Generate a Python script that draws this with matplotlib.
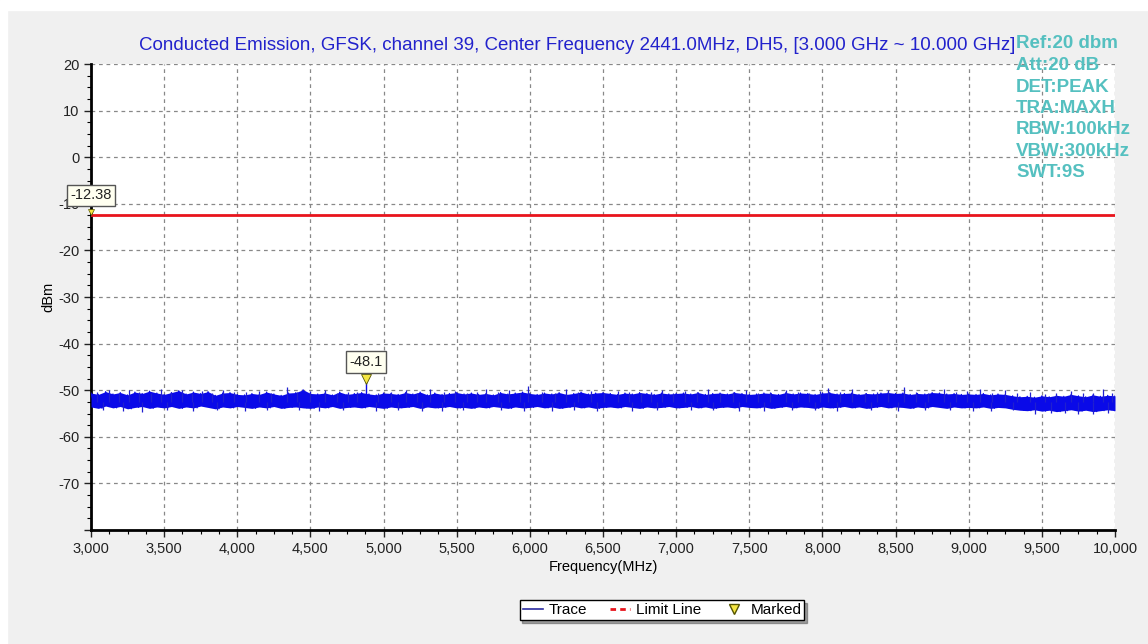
import matplotlib.pyplot as plt
import numpy as np
from matplotlib.lines import Line2D
from matplotlib.patches import Rectangle
from matplotlib.ticker import MultipleLocator, FuncFormatter

plt.rcParams["font.family"] = ["Liberation Sans", "DejaVu Sans"]

# Данные трассы: верхняя и нижняя огибающая шума, шаг 50 МГц
freq = np.arange(3000, 10001, 50)
trace_hi = [
    -50.6, -50.9, -50.3, -50.8, -50.5, -51.0, -50.4, -50.7, -50.2, -50.6, -50.9,
    -50.5, -50.1, -50.8, -50.4, -50.7, -50.3, -51.1, -50.6, -50.5, -50.9,
    -51.0, -50.7, -50.9, -50.4, -50.8, -51.1, -50.6, -50.5, -49.9, -50.7,
    -50.8, -50.6, -51.0, -50.4, -50.9, -50.7, -50.5, -50.8, -51.0, -50.6,
    -50.7, -50.9, -50.5, -50.8, -50.4, -51.0, -50.6, -50.9, -50.7, -50.5,
    -50.8, -50.6, -50.9, -50.7, -51.0, -50.5, -50.8, -50.6, -50.4, -50.7,
    -50.9, -50.6, -50.8, -50.5, -50.9, -50.7, -50.4, -50.8, -50.6, -50.5,
    -50.7, -50.9, -50.6, -50.8, -50.5, -50.7, -50.9, -50.6, -50.8, -50.7,
    -50.6, -50.8, -50.5, -50.9, -50.7, -50.6, -50.8, -50.5, -50.7, -50.9,
    -50.8, -50.6, -50.7, -50.9, -50.5, -50.8, -50.6, -50.7, -50.9, -50.6,
    -50.5, -50.8, -50.7, -50.6, -50.9, -50.7, -50.8, -50.6, -50.5, -50.7,
    -50.6, -50.9, -50.7, -50.8, -50.5, -50.6, -50.8, -50.7, -50.9, -50.8,
    -50.9, -50.7, -51.0, -50.8, -50.9, -51.2, -51.4, -51.3, -51.5, -51.2,
    -51.4, -51.1, -51.3, -50.9, -51.2, -51.4, -51.0, -51.3, -51.1, -51.2,
]
trace_lo = [
    -53.6, -53.9, -53.4, -53.8, -53.5, -54.0, -53.7, -53.5, -53.9, -53.6, -53.8,
    -53.5, -53.9, -53.6, -53.8, -53.4, -53.7, -54.0, -53.6, -53.8, -53.5,
    -53.7, -53.9, -53.6, -53.8, -53.5, -53.9, -53.7, -53.6, -53.8, -53.9,
    -53.6, -53.8, -53.5, -53.9, -53.7, -53.6, -53.8, -53.5, -53.7, -53.9,
    -53.6, -53.8, -53.7, -53.5, -53.9, -53.6, -53.8, -53.7, -53.5, -53.8,
    -53.7, -53.9, -53.6, -53.8, -53.5, -53.7, -53.9, -53.6, -53.8, -53.7,
    -53.5, -53.8, -53.6, -53.9, -53.7, -53.5, -53.8, -53.6, -53.9, -53.7,
    -53.6, -53.8, -53.5, -53.7, -53.9, -53.6, -53.8, -53.7, -53.5, -53.8,
    -53.7, -53.5, -53.8, -53.6, -53.9, -53.7, -53.6, -53.8, -53.5, -53.7,
    -53.8, -53.6, -53.9, -53.7, -53.5, -53.8, -53.6, -53.7, -53.9, -53.6,
    -53.8, -53.7, -53.5, -53.8, -53.6, -53.9, -53.7, -53.5, -53.8, -53.6,
    -53.7, -53.9, -53.6, -53.8, -53.5, -53.7, -53.9, -53.6, -53.8, -53.7,
    -53.8, -53.6, -53.9, -53.7, -53.8, -54.1, -54.3, -54.4, -54.2, -54.5,
    -54.3, -54.6, -54.4, -54.2, -54.5, -54.3, -54.6, -54.4, -54.2, -54.4,
]

# Отдельные выбросы шума вверх (частота, уровень)
spike_up_freq = [3040, 3120, 3190, 3260, 3330, 3410, 3480, 3550, 3620, 3690,
                 3760, 3830, 3900, 3980, 4060, 4150, 4230, 4340, 4410, 4500,
                 4600, 4680, 4760, 4820, 4960, 5050, 5150, 5230, 5320, 5410,
                 5490, 5570, 5640, 5700, 5780, 5860, 5930, 5990, 6080, 6170,
                 6250, 6330, 6420, 6510, 6600, 6680, 6760, 6830, 6900, 6980,
                 7060, 7140, 7220, 7300, 7390, 7480, 7560, 7640, 7750, 7830,
                 7910, 7980, 8040, 8120, 8200, 8290, 8370, 8450, 8560, 8640,
                 8720, 8830, 8910, 8990, 9080, 9160, 9250, 9330, 9420, 9520,
                 9600, 9700, 9780, 9850, 9920, 9980]
spike_up_val = [-50.4, -49.9, -50.5, -50.0, -50.3, -50.6, -49.8, -50.4, -50.0, -50.5,
                -50.2, -50.6, -49.9, -50.4, -50.3, -50.1, -50.5, -49.3, -50.4, -50.2,
                -49.9, -50.5, -50.3, -50.4, -50.6, -50.3, -50.0, -50.5, -49.8, -50.4,
                -50.2, -50.6, -50.3, -49.7, -50.4, -50.0, -50.5, -49.0, -50.3, -50.6,
                -49.8, -50.4, -50.2, -50.5, -50.1, -50.3, -50.6, -50.4, -49.9, -50.5,
                -50.2, -50.4, -49.8, -50.5, -50.3, -50.0, -50.6, -50.4, -49.9, -50.3,
                -50.5, -50.2, -49.6, -50.4, -49.7, -50.5, -50.3, -50.0, -49.3, -50.4,
                -50.6, -49.8, -50.4, -50.2, -49.7, -50.5, -49.9, -50.6, -50.4, -50.8,
                -50.6, -50.1, -50.7, -50.5, -49.8, -50.6]
# выбросы вниз
spike_dn_freq = [3080, 3220, 3350, 3520, 3700, 3860, 4050, 4200, 4420, 4560,
                 4720, 4950, 5100, 5260, 5400, 5540, 5800, 5960, 6150, 6300,
                 6460, 6700, 6870, 7100, 7250, 7430, 7600, 7790, 7950, 8100,
                 8330, 8520, 8700, 8870, 9030, 9150, 9300, 9450, 9560, 9660,
                 9750, 9850, 9950]
spike_dn_val = [-54.2, -54.4, -54.6, -54.3, -54.4, -54.2, -54.5, -54.3, -54.3, -54.5,
                -54.2, -54.4, -54.3, -54.5, -54.5, -54.2, -54.3, -54.4, -54.4, -54.2,
                -54.5, -54.5, -54.3, -54.3, -54.2, -54.4, -54.4, -54.2, -54.3, -54.5,
                -54.2, -54.4, -54.3, -54.2, -54.4, -54.4, -54.3, -55.0, -54.9, -54.8,
                -55.1, -55.0, -54.9]

limit_level = -12.38
marker_freq = 4880
marker_level = -48.1

title = ("Conducted Emission, GFSK, channel 39, Center Frequency 2441.0MHz, DH5, "
         "[3.000 GHz ~ 10.000 GHz]")
info_lines = ["Ref:20 dbm", "Att:20 dB", "DET:PEAK", "TRA:MAXH",
              "RBW:100kHz", "VBW:300kHz", "SWT:9S"]

blue = "#0a0ae8"

fig = plt.figure(figsize=(11.48, 6.44), dpi=100, facecolor="#f0f0f0")
# белые полоски слева и сверху
fig.patches.append(Rectangle((0, 0), 7 / 1148, 1, transform=fig.transFigure,
                             color="white", zorder=-10))
fig.patches.append(Rectangle((0, 1 - 10 / 644), 1, 10 / 644, transform=fig.transFigure,
                             color="white", zorder=-10))
ax = fig.add_axes([91 / 1148, 1 - 530 / 644, 1024 / 1148, 466 / 644])

# Трасса: полоса шума + зубчатый край + выбросы
ax.fill_between(freq, trace_lo, trace_hi, color=blue, lw=0, zorder=3)
zx = np.empty(2 * len(freq))
zy = np.empty(2 * len(freq))
zx[0::2] = freq
zx[1::2] = np.minimum(freq + 25, 10000)
zy[0::2] = trace_hi
zy[1::2] = trace_lo
ax.plot(zx, zy, color=blue, lw=0.8, zorder=3)
ax.vlines(spike_up_freq, -52.5, spike_up_val, color="#2020d0", lw=0.9, zorder=3)
ax.vlines(spike_dn_freq, -52.5, spike_dn_val, color="#2020d0", lw=0.9, zorder=3)
ax.vlines([marker_freq], -52.5, [marker_level], color=blue, lw=1, zorder=3)

# Линия ограничения
ax.axhline(limit_level, color="#e8141c", lw=2, zorder=4)

# Маркеры
ax.plot([marker_freq], [marker_level + 0.6], marker="v", ms=7, color="#f5e642",
        mec="#555500", mew=0.6, zorder=5, clip_on=False)
ax.plot([3000], [limit_level + 0.6], marker="v", ms=4, color="#f5e642",
        mec="#555500", mew=0.5, zorder=5, clip_on=False)
box = dict(boxstyle="square,pad=0.25", fc="#fffff0", ec="#555555", lw=1)
ax.annotate(f"{marker_level:g}", (marker_freq, marker_level), xytext=(0, 14),
            textcoords="offset points", ha="center", va="center", fontsize=10.5,
            color="#222222", bbox=box, zorder=6)
ax.annotate(f"{limit_level:.2f}", (3000, limit_level), xytext=(0, 14),
            textcoords="offset points", ha="center", va="center", fontsize=10.5,
            color="#222222", bbox=box, zorder=6, annotation_clip=False)

# Оси
ax.set_xlim(3000, 10000)
ax.set_ylim(-80, 20)
ax.xaxis.set_major_locator(MultipleLocator(500))
ax.xaxis.set_minor_locator(MultipleLocator(125))
ax.yaxis.set_major_locator(MultipleLocator(10))
ax.yaxis.set_minor_locator(MultipleLocator(2.5))
ax.xaxis.set_major_formatter(FuncFormatter(lambda v, p: f"{v:,.0f}"))
ax.yaxis.set_major_formatter(FuncFormatter(lambda v, p: "" if v <= -80 else f"{v:.0f}"))
ax.tick_params(axis="both", which="major", labelsize=10.5, length=5, width=1,
               direction="out", colors="#222222")
ax.tick_params(axis="both", which="minor", length=3, width=0.8, direction="out")
for s in ["top", "right"]:
    ax.spines[s].set_visible(False)
for s in ["left", "bottom"]:
    ax.spines[s].set_linewidth(2)
ax.grid(True, which="major", ls=(0, (3, 3)), color="#888888", lw=0.9)
ax.set_axisbelow(True)
ax.set_xlabel("Frequency(MHz)", fontsize=10.5, labelpad=3)
ax.set_ylabel("dBm", fontsize=10.5, labelpad=2)

fig.text(577 / 1148, 1 - 45 / 644, title, ha="center", va="center",
         fontsize=13.5, color="#2222cc")
for i, line in enumerate(info_lines):
    fig.text(1016 / 1148, 1 - (44 + 21.5 * i) / 644, line, ha="left", va="center",
             fontsize=13.5, fontweight="bold", color="#55c0c0", zorder=10)

handles = [
    Line2D([], [], color="#2a2aa0", lw=1.2),
    Line2D([], [], color="#e8141c", lw=2, ls=(0, (2, 1.5))),
    Line2D([], [], marker="v", ls="none", color="#f5e642", mec="#555500", ms=7),
]
fig.legend(handles, ["Trace", "Limit Line", "Marked"], loc="center",
           bbox_to_anchor=(662 / 1148, 1 - 610 / 644), ncol=3, fontsize=11,
           frameon=True, fancybox=False, shadow=True, edgecolor="black",
           framealpha=1, handlelength=1.3, handletextpad=0.4, columnspacing=1.5,
           borderpad=0.2)

fig.savefig("out.png", dpi=100, facecolor=fig.get_facecolor())
